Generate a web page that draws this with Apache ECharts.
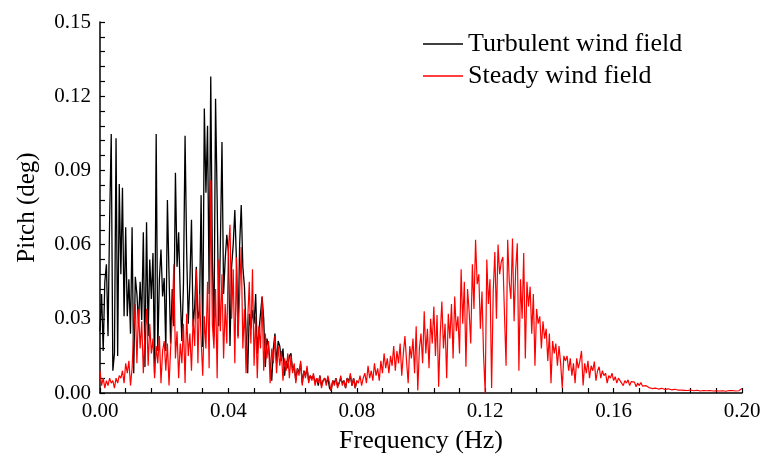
<!DOCTYPE html>
<html>
<head>
<meta charset="utf-8">
<script src="https://cdn.jsdelivr.net/npm/echarts@6/dist/echarts.min.js"></script>
<style>html,body{margin:0;padding:0;background:#fff;}#c{width:764px;height:464px;}</style>
</head>
<body>
<div id="c"></div>
<script>
// Frequency grid step (Hz) of both spectra
const freqStep = 0.0005;

// Turbulent wind field spectrum, 0 to 0.08 Hz
const turbulent = [
0.025,0.040,0.017,0.045,0.052,0.023,0.070,0.1047,0.009,0.016,
0.103,0.015,0.0845,0.048,0.083,0.031,0.067,0.031,0.046,0.024,
0.067,0.008,0.047,0.040,0.028,0.045,0.0295,0.065,0.0105,0.069,
0.023,0.054,0.038,0.0566,0.008,0.1047,0.017,0.046,0.058,0.039,
0.0465,0.017,0.078,0.048,0.020,0.042,0.027,0.089,0.051,0.065,
0.040,0.021,0.044,0.104,0.057,0.028,0.045,0.070,0.027,0.035,
0.051,0.030,0.0335,0.080,0.0186,0.115,0.081,0.108,0.040,0.128,
0.054,0.0226,0.119,0.078,0.027,0.060,0.1015,0.040,0.054,0.064,
0.057,0.019,0.051,0.060,0.074,0.054,0.023,0.060,0.076,0.051,
0.043,0.025,0.008,0.032,0.026,0.0335,0.028,0.040,0.016,0.025,
0.032,0.039,0.030,0.0105,0.022,0.019,0.012,0.005,0.018,0.024,
0.012,0.021,0.019,0.013,0.018,0.007,0.013,0.010,0.015,0.016,
0.009,0.011,0.005,0.010,0.008,0.012,0.004,0.009,0.007,0.010,
0.005,0.007,0.006,0.007,0.004,0.006,0.003,0.007,0.003,0.005,
0.006,0.004,0.006,0.002,0.001,0.005,0.004,0.006,0.003,0.004,
0.006,0.004,0.005,0.002,0.006,0.005,0.007,0.003,0.006,0.002,0.005
];

// Steady wind field spectrum, 0 to 0.20 Hz
const steady = [
0.009,0.003,0.006,0.002,0.005,0.003,0.006,0.004,0.005,0.002,0.006,0.004,0.007,
0.006,0.009,0.004,0.012,0.008,0.013,0.003,0.010,
0.025,0.036,0.012,0.034,0.018,0.029,
0.008,0.024,0.034,0.011,0.028,0.016,
0.022,0.006,0.019,0.012,0.023,0.004,0.017,0.021,
0.009,0.020,0.003,0.018,0.030,0.052,0.014,0.025,
0.006,0.020,0.012,0.028,0.004,0.032,
0.015,0.024,0.009,0.030,0.019,0.050,
0.012,0.040,0.022,0.007,0.031,0.018,
0.045,0.010,0.086,0.028,
0.018,0.042,0.006,0.054,0.025,0.048,
0.014,0.036,0.020,0.058,0.068,0.030,
0.050,0.012,0.055,0.022,0.040,0.059,
0.018,0.034,0.008,0.029,0.045,0.020,
0.050,0.011,0.031,0.006,0.027,0.018,
0.039,0.009,0.024,0.014,0.021,0.004,
0.018,0.012,0.023,0.008,0.019,0.011,0.017,0.005,0.014,0.009,0.016,0.006,
0.015,0.008,0.012,0.004,0.010,0.007,0.013,0.003,0.009,0.006,0.011,0.004,
0.007,0.005,0.008,0.003,0.006,0.004,0.007,0.002,0.005,0.006,0.003,0.007,0.004,0.001,0.005,
0.003,0.006,0.002,0.004,0.007,0.003,0.005,0.002,0.006,0.004,0.008,0.003,0.006,0.002,0.005,
0.004,0.007,0.003,0.006,0.008,0.004,0.011,0.006,0.009,0.005,0.012,0.007,0.010,0.005,0.013,0.008,
0.016,0.010,0.014,0.008,0.015,0.011,0.019,0.009,0.017,0.012,0.020,0.007,0.016,0.023,
0.013,0.004,0.019,0.014,0.022,0.008,0.027,0.001,0.018,0.024,
0.012,0.033,0.016,0.026,0.010,0.030,0.020,0.035,0.015,0.0315,
0.0025,0.024,0.037,0.018,0.028,0.006,0.032,0.022,0.036,0.014,
0.039,0.025,0.031,0.016,0.050,0.028,0.045,0.0106,0.042,0.033,
0.020,0.052,0.034,0.062,0.044,0.048,0.026,0.041,0.015,0.000,
0.054,0.036,0.046,0.002,0.041,0.057,0.030,0.060,0.048,0.053,
0.055,0.032,0.011,0.062,0.045,0.038,0.0625,0.029,0.050,0.0605,
0.009,0.046,0.030,0.0566,0.014,0.045,0.035,0.043,0.024,0.040,
0.011,0.034,0.028,0.031,0.018,0.029,0.022,0.026,0.013,0.024,
0.004,0.021,0.016,0.020,0.011,0.019,0.012,0.002,0.015,0.013,
0.015,0.009,0.014,0.007,0.012,0.004,0.014,0.010,0.013,0.017,
0.003,0.012,0.008,0.013,0.006,0.011,0.009,0.0127,0.005,0.009,
0.0106,0.006,0.009,0.007,0.008,0.004,0.007,0.006,0.008,0.005,
0.0066,0.004,0.006,0.005,0.0055,0.003,0.005,0.004,0.0053,0.003,
0.0046,0.0038,0.0044,0.0025,0.004,0.003,0.0042,0.0028,0.0035,0.003,
0.0032,0.0022,0.003,0.0018,0.0026,0.002,0.0028,0.0016,0.0023,0.0019,
0.0022,0.0014,0.002,0.0017,0.0021,0.0013,0.0018,0.0015,0.0017,0.0012,
0.0016,0.0012,0.0015,0.0011,0.0014,0.0010,0.0013,0.0012,0.0015,0.0009,
0.0012,0.0011,0.0013,0.0008,0.0011,0.0010,0.0012,0.0009,0.0011,0.0010,
0.0012,0.0008,0.0010,0.0009,0.0011,0.0008,0.0010,0.0009,0.0011,0.0007,
0.0009,0.0010,0.0008,0.0010,0.0009,0.0008,0.0010,0.0009,0.0011,0.0018
];

const seriesNames = ['Turbulent wind field', 'Steady wind field'];
const xTitle = 'Frequency (Hz)';
const yTitle = 'Pitch (deg)';

const toPairs = arr => arr.map((v, i) => [Math.round(i * freqStep * 1e5) / 1e5, v]);
const FONT = 'Liberation Serif';

const chart = echarts.init(document.getElementById('c'), null, {renderer: 'canvas'});
chart.setOption({
  animation: false,
  backgroundColor: '#fff',
  grid: {left: 100, right: 22, top: 22, bottom: 71},
  legend: [
    {data: [seriesNames[0]], left: 418, top: 26, padding: 5, orient: 'vertical', icon: 'rect', itemWidth: 40, itemHeight: 1.5,
     itemGap: 0, textStyle: {fontFamily: FONT, fontSize: 26, color: '#000'}},
    {data: [seriesNames[1]], left: 418, top: 58, padding: 5, orient: 'vertical', icon: 'rect', itemWidth: 40, itemHeight: 1.5,
     itemGap: 0, textStyle: {fontFamily: FONT, fontSize: 26, color: '#000'}}
  ],
  xAxis: {
    type: 'value', min: 0, max: 0.2, interval: 0.04,
    name: xTitle, nameLocation: 'middle', nameGap: 35,
    nameTextStyle: {fontFamily: FONT, fontSize: 26, color: '#000'},
    axisLine: {show: true, lineStyle: {color: '#000', width: 1.5}},
    axisTick: {show: true, inside: true, length: 5, lineStyle: {color: '#000', width: 1.2}},
    minorTick: {show: true, splitNumber: 5, length: 5, lineStyle: {color: '#000', width: 1.2}},
    axisLabel: {fontFamily: FONT, fontSize: 21, color: '#000', margin: 8, formatter: v => v.toFixed(2)},
    splitLine: {show: false}
  },
  yAxis: {
    type: 'value', min: 0, max: 0.15, interval: 0.03,
    name: yTitle, nameLocation: 'middle', nameGap: 60, nameRotate: 90,
    nameTextStyle: {fontFamily: FONT, fontSize: 25, color: '#000'},
    axisLine: {show: true, lineStyle: {color: '#000', width: 1.5}},
    axisTick: {show: true, inside: true, length: 5, lineStyle: {color: '#000', width: 1.2}},
    minorTick: {show: true, splitNumber: 5, length: 5, lineStyle: {color: '#000', width: 1.2}},
    axisLabel: {fontFamily: FONT, fontSize: 21, color: '#000', margin: 9, formatter: v => v.toFixed(2)},
    splitLine: {show: false}
  },
  series: [
    {name: seriesNames[0], type: 'line', data: toPairs(turbulent), symbol: 'none', showSymbol: false,
     lineStyle: {color: '#000', width: 1.3}, itemStyle: {color: '#000'}, z: 2},
    {name: seriesNames[1], type: 'line', data: toPairs(steady), symbol: 'none', showSymbol: false,
     lineStyle: {color: '#ff0000', width: 1.2}, itemStyle: {color: '#ff0000'}, z: 3}
  ]
});
</script>
</body>
</html>
